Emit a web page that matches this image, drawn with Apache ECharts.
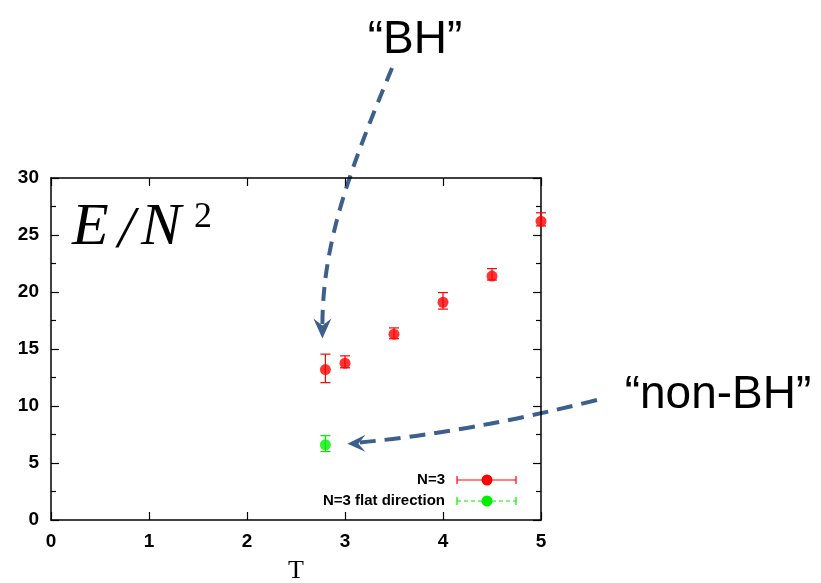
<!DOCTYPE html>
<html>
<head>
<meta charset="utf-8">
<script src="https://cdn.jsdelivr.net/npm/echarts@6/dist/echarts.min.js"></script>
<style>html,body{margin:0;padding:0;background:#fff}#c{width:821px;height:583px}</style>
</head>
<body>
<div id="c"></div>
<script>
// ---- data ----
var tN3 = [2.8, 3.0, 3.5, 4.0, 4.5, 5.0];
var eN3 = [13.2, 13.75, 16.3, 19.1, 21.4, 26.2];
var eN3Low = [12.05, 13.35, 15.9, 18.5, 21.05, 25.8];
var eN3High = [14.55, 14.4, 16.85, 19.95, 22.05, 26.95];
var tFlat = [2.8];
var eFlat = [6.6];
var eFlatLow = [6.0];
var eFlatHigh = [7.4];
var xTicks = [0, 1, 2, 3, 4, 5];
var yTicks = [0, 5, 10, 15, 20, 25, 30];

var RED = '#ff0000', GREEN = '#00ee00', ARROW = '#3d5f8c';

function rows(t, e, lo, hi) {
  return t.map(function (v, i) { return [v, e[i], lo[i], hi[i]]; });
}
function errRender(color) {
  return function (params, api) {
    var x = api.value(0);
    var a = api.coord([x, api.value(2)]);
    var b = api.coord([x, api.value(3)]);
    var st = { stroke: color, lineWidth: 1.2 };
    return {
      type: 'group',
      children: [
        { type: 'line', shape: { x1: a[0], y1: a[1], x2: b[0], y2: b[1] }, style: st },
        { type: 'line', shape: { x1: a[0] - 5, y1: a[1], x2: a[0] + 5, y2: a[1] }, style: st },
        { type: 'line', shape: { x1: b[0] - 5, y1: b[1], x2: b[0] + 5, y2: b[1] }, style: st }
      ]
    };
  };
}

var axisCommon = {
  type: 'value', min: 0,
  axisLine: { show: true, onZero: false, lineStyle: { color: '#000', width: 1.5 } },
  axisTick: { show: true, inside: true, length: 8, lineStyle: { color: '#000', width: 1.2 } },
  splitLine: { show: false },
  axisLabel: { color: '#000', fontFamily: 'Liberation Sans, Arial, sans-serif', fontWeight: 'bold', fontSize: 19, margin: 12 }
};
function ax(extra) { return Object.assign({}, JSON.parse(JSON.stringify(axisCommon)), extra); }

var chart = echarts.init(document.getElementById('c'), null, { renderer: 'canvas' });
chart.setOption({
  animation: false,
  backgroundColor: '#fff',
  grid: { left: 51, right: 280, top: 178, bottom: 63 },
  xAxis: [
    ax({ position: 'bottom', max: xTicks[xTicks.length - 1], interval: 1 }),
    ax({ position: 'top', max: xTicks[xTicks.length - 1], interval: 1, axisLabel: { show: false } })
  ],
  yAxis: [
    ax({ position: 'left', max: yTicks[yTicks.length - 1], interval: 5,
         minorTick: { show: true, splitNumber: 2, length: 5, lineStyle: { color: '#000', width: 1.2 } } }),
    ax({ position: 'right', max: yTicks[yTicks.length - 1], interval: 5, axisLabel: { show: false },
         minorTick: { show: true, splitNumber: 2, length: 5, lineStyle: { color: '#000', width: 1.2 } } })
  ],
  series: [
    { type: 'custom', name: 'N=3 err', clip: false, renderItem: errRender(RED),
      data: rows(tN3, eN3, eN3Low, eN3High), encode: { x: 0, y: 1 }, z: 2 },
    { type: 'custom', name: 'flat err', clip: false, renderItem: errRender(GREEN),
      data: rows(tFlat, eFlat, eFlatLow, eFlatHigh), encode: { x: 0, y: 1 }, z: 2 },
    { type: 'scatter', name: 'N=3', clip: false, symbol: 'circle', symbolSize: 11,
      itemStyle: { color: RED }, data: tN3.map(function (v, i) { return [v, eN3[i]]; }), z: 3 },
    { type: 'scatter', name: 'N=3 flat direction', clip: false, symbol: 'circle', symbolSize: 11,
      itemStyle: { color: GREEN }, data: tFlat.map(function (v, i) { return [v, eFlat[i]]; }), z: 3 }
  ]
});

// ---- annotations anchored to data ----
var pBH = chart.convertToPixel({ gridIndex: 0 }, [tN3[0], eN3[0]]);
var pNon = chart.convertToPixel({ gridIndex: 0 }, [tFlat[0], eFlat[0]]);
var tip1 = [pBH[0] - 3, pBH[1] - 31];
var tip2 = [pNon[0] + 22, pNon[1] - 1];

function legendItem(y, color, dashed, label) {
  var x1 = 457, x2 = 516, xm = 487;
  var ls = { stroke: color, lineWidth: 1.2 };
  if (dashed) ls.lineDash = [4, 3];
  return [
    { type: 'text', style: { text: label, x: 445, y: y, align: 'right', verticalAlign: 'middle',
      font: 'bold 15px "Liberation Sans", Arial, sans-serif', fill: '#000' } },
    { type: 'line', shape: { x1: x1, y1: y, x2: x2, y2: y }, style: ls },
    { type: 'line', shape: { x1: x1, y1: y - 4, x2: x1, y2: y + 4 }, style: { stroke: color, lineWidth: 1.2 } },
    { type: 'line', shape: { x1: x2, y1: y - 4, x2: x2, y2: y + 4 }, style: { stroke: color, lineWidth: 1.2 } },
    { type: 'circle', shape: { cx: xm, cy: y, r: 5.5 }, style: { fill: color } }
  ];
}

var g = [];
g.push({ type: 'text', style: { text: '\u201cBH\u201d', x: 415, y: 40, align: 'center', verticalAlign: 'middle',
  font: '46px "Liberation Sans", Arial, sans-serif', fill: '#000' } });
g.push({ type: 'text', style: { text: '\u201cnon-BH\u201d', x: 718, y: 395, align: 'center', verticalAlign: 'middle',
  font: '46px "Liberation Sans", Arial, sans-serif', fill: '#000' } });
// E/N^2
var serifI = 'italic 60px "Liberation Serif", "Times New Roman", serif';
g.push({ type: 'text', style: { text: 'E', x: 72, y: 198, verticalAlign: 'top', font: serifI, fill: '#000' } });
g.push({ type: 'text', style: { text: '/', x: 118, y: 201, verticalAlign: 'top', font: serifI, fill: '#000' } });
g.push({ type: 'text', style: { text: 'N', x: 141, y: 198, verticalAlign: 'top', font: serifI, fill: '#000' } });
g.push({ type: 'text', style: { text: '2', x: 194, y: 200, verticalAlign: 'top', font: '36px "Liberation Serif", "Times New Roman", serif', fill: '#000' } });
// T label
g.push({ type: 'text', style: { text: 'T', x: 296, y: 571, align: 'center', verticalAlign: 'middle',
  font: '26px "Liberation Serif", "Times New Roman", serif', fill: '#000' } });

// arrow 1 (BH) : down
g.push({ type: 'bezierCurve', shape: { x1: 392, y1: 68, cpx1: 352, cpy1: 165, cpx2: tip1[0], cpy2: 240, x2: tip1[0], y2: tip1[1] - 12 },
  style: { stroke: ARROW, lineWidth: 4, lineDash: [14, 9], fill: null } });
g.push({ type: 'polygon', shape: { points: [[tip1[0], tip1[1]], [tip1[0] - 9, tip1[1] - 20], [tip1[0], tip1[1] - 13], [tip1[0] + 9, tip1[1] - 20]] },
  style: { fill: ARROW } });
// arrow 2 (non-BH) : left
g.push({ type: 'bezierCurve', shape: { x1: 597, y1: 400, cpx1: 470, cpy1: 432, x2: tip2[0] + 10, y2: tip2[1] - 1 },
  style: { stroke: ARROW, lineWidth: 4, lineDash: [16, 9], fill: null } });
g.push({ type: 'polygon', shape: { points: [[tip2[0], tip2[1]], [tip2[0] + 18, tip2[1] - 9], [tip2[0] + 11, tip2[1]], [tip2[0] + 18, tip2[1] + 8]] },
  style: { fill: ARROW } });

g = g.concat(legendItem(480, RED, false, 'N=3'));
g = g.concat(legendItem(501, GREEN, true, 'N=3 flat direction'));

chart.setOption({ graphic: g });
</script>
</body>
</html>
